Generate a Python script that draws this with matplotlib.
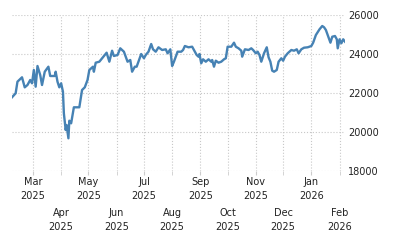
import numpy as np
import pandas as pd
import matplotlib
matplotlib.use("Agg")
import matplotlib.pyplot as plt
import matplotlib.dates as mdates

# 日期与数值
dates = [
    "2025-02-06", "2025-02-10", "2025-02-12", "2025-02-17", "2025-02-20", "2025-02-23",
    "2025-02-26", "2025-02-28", "2025-03-02", "2025-03-04", "2025-03-06", "2025-03-09",
    "2025-03-11", "2025-03-14", "2025-03-18", "2025-03-20", "2025-03-25", "2025-03-26",
    "2025-03-28", "2025-03-30", "2025-04-01", "2025-04-03", "2025-04-04", "2025-04-06",
    "2025-04-07", "2025-04-09", "2025-04-10", "2025-04-12", "2025-04-15", "2025-04-21",
    "2025-04-24", "2025-04-27", "2025-04-30", "2025-05-02", "2025-05-06", "2025-05-07",
    "2025-05-09", "2025-05-13", "2025-05-16", "2025-05-21", "2025-05-24", "2025-05-27",
    "2025-05-29", "2025-06-02", "2025-06-05", "2025-06-09", "2025-06-13", "2025-06-16",
    "2025-06-18", "2025-06-21", "2025-06-23", "2025-06-25", "2025-06-28", "2025-07-01",
    "2025-07-03", "2025-07-06", "2025-07-09", "2025-07-11", "2025-07-14", "2025-07-17",
    "2025-07-21", "2025-07-25", "2025-07-27", "2025-07-30", "2025-08-01", "2025-08-03",
    "2025-08-07", "2025-08-11", "2025-08-13", "2025-08-15", "2025-08-19", "2025-08-23",
    "2025-08-25", "2025-08-28", "2025-08-30", "2025-08-31", "2025-09-02", "2025-09-04",
    "2025-09-07", "2025-09-10", "2025-09-13", "2025-09-14", "2025-09-16", "2025-09-18",
    "2025-09-21", "2025-09-24", "2025-09-27", "2025-09-29", "2025-10-01", "2025-10-05",
    "2025-10-08", "2025-10-10", "2025-10-13", "2025-10-16", "2025-10-17", "2025-10-20",
    "2025-10-24", "2025-10-27", "2025-10-29", "2025-11-01", "2025-11-03", "2025-11-05",
    "2025-11-07", "2025-11-10", "2025-11-13", "2025-11-15", "2025-11-17", "2025-11-19",
    "2025-11-21", "2025-11-24", "2025-11-26", "2025-11-29", "2025-12-01", "2025-12-03",
    "2025-12-06", "2025-12-10", "2025-12-13", "2025-12-16", "2025-12-18", "2025-12-21",
    "2025-12-24", "2025-12-28", "2026-01-01", "2026-01-03", "2026-01-06", "2026-01-10",
    "2026-01-13", "2026-01-15", "2026-01-17", "2026-01-19", "2026-01-22", "2026-01-24",
    "2026-01-27", "2026-01-29", "2026-01-30", "2026-02-01", "2026-02-03", "2026-02-05",
    "2026-02-07",
]
values = [
    21780, 21985, 22580, 22805, 22290, 22410,
    22667, 22497, 23180, 22323, 23385, 22923,
    22410, 23092, 23349, 22872, 22872, 23092,
    22580, 22292, 22497, 22067, 20959, 20103,
    20359, 19677, 20580, 20446, 21267, 21267,
    22154, 22292, 22667, 23180, 23349, 23092,
    23554, 23605, 23780, 24067, 23605, 24169,
    23898, 23949, 24292, 24118, 23605, 23692,
    23092, 23349, 23349, 23605, 24000, 23780,
    23949, 24118, 24513, 24241, 24118, 24344,
    24205, 24241, 24036, 24241, 23385, 23605,
    24118, 24118, 24205, 24410, 24344, 24374,
    24205, 23949, 23862, 24000, 23523, 23728,
    23605, 23728, 23605, 23692, 23349, 23656,
    23554, 23605, 23728, 23780, 24374, 24374,
    24580, 24374, 24292, 24169, 23862, 24241,
    24205, 24292, 24205, 24036, 24118, 23949,
    23605, 24036, 24344, 23831, 23605, 23144,
    23092, 23180, 23605, 23780, 23656, 23862,
    24036, 24205, 24169, 24241, 24036, 24241,
    24323, 24344, 24410, 24580, 24974, 25267,
    25436, 25369, 25231, 24974, 24580, 24887,
    24923, 24754, 24292, 24754, 24549, 24754,
    24631,
]
y_ticks = [18000, 20000, 22000, 24000, 26000]

x = pd.to_datetime(dates)

fig = plt.figure(figsize=(4, 2.5), dpi=100)
ax = fig.add_axes([0.03, 0.316, 0.8325, 0.624])

ax.plot(x, values, color="#4682b4", linewidth=1.7)

ax.set_xlim(x[0], x[-1])
ax.set_ylim(18000, 26000)
ax.set_yticks(y_ticks)
ax.yaxis.tick_right()

# 月份刻度：奇数月在上排，偶数月在下排
months = pd.date_range("2025-03-01", "2026-02-01", freq="MS")
top = months[::2]
bottom = months[1::2]
ax.set_xticks(top)
ax.set_xticklabels([m.strftime("%b\n%Y") for m in top])
ax.set_xticks(bottom, minor=True)
ax.set_xticklabels([m.strftime("%b\n%Y") for m in bottom], minor=True)

ax.tick_params(axis="x", which="major", length=3, pad=1.5, labelsize=7,
               color="#cccccc", labelcolor="#222222")
ax.tick_params(axis="x", which="minor", length=3, pad=24, labelsize=7,
               color="#cccccc", labelcolor="#222222")
ax.tick_params(axis="y", length=0, pad=2, labelsize=7, labelcolor="#222222")
for lab in ax.get_xticklabels(which="both"):
    lab.set_linespacing(1.45)

ax.grid(True, which="both", linestyle=":", color="#c8c8c8", linewidth=0.8)
for s in ax.spines.values():
    s.set_visible(False)

fig.savefig("out.png", dpi=100)
